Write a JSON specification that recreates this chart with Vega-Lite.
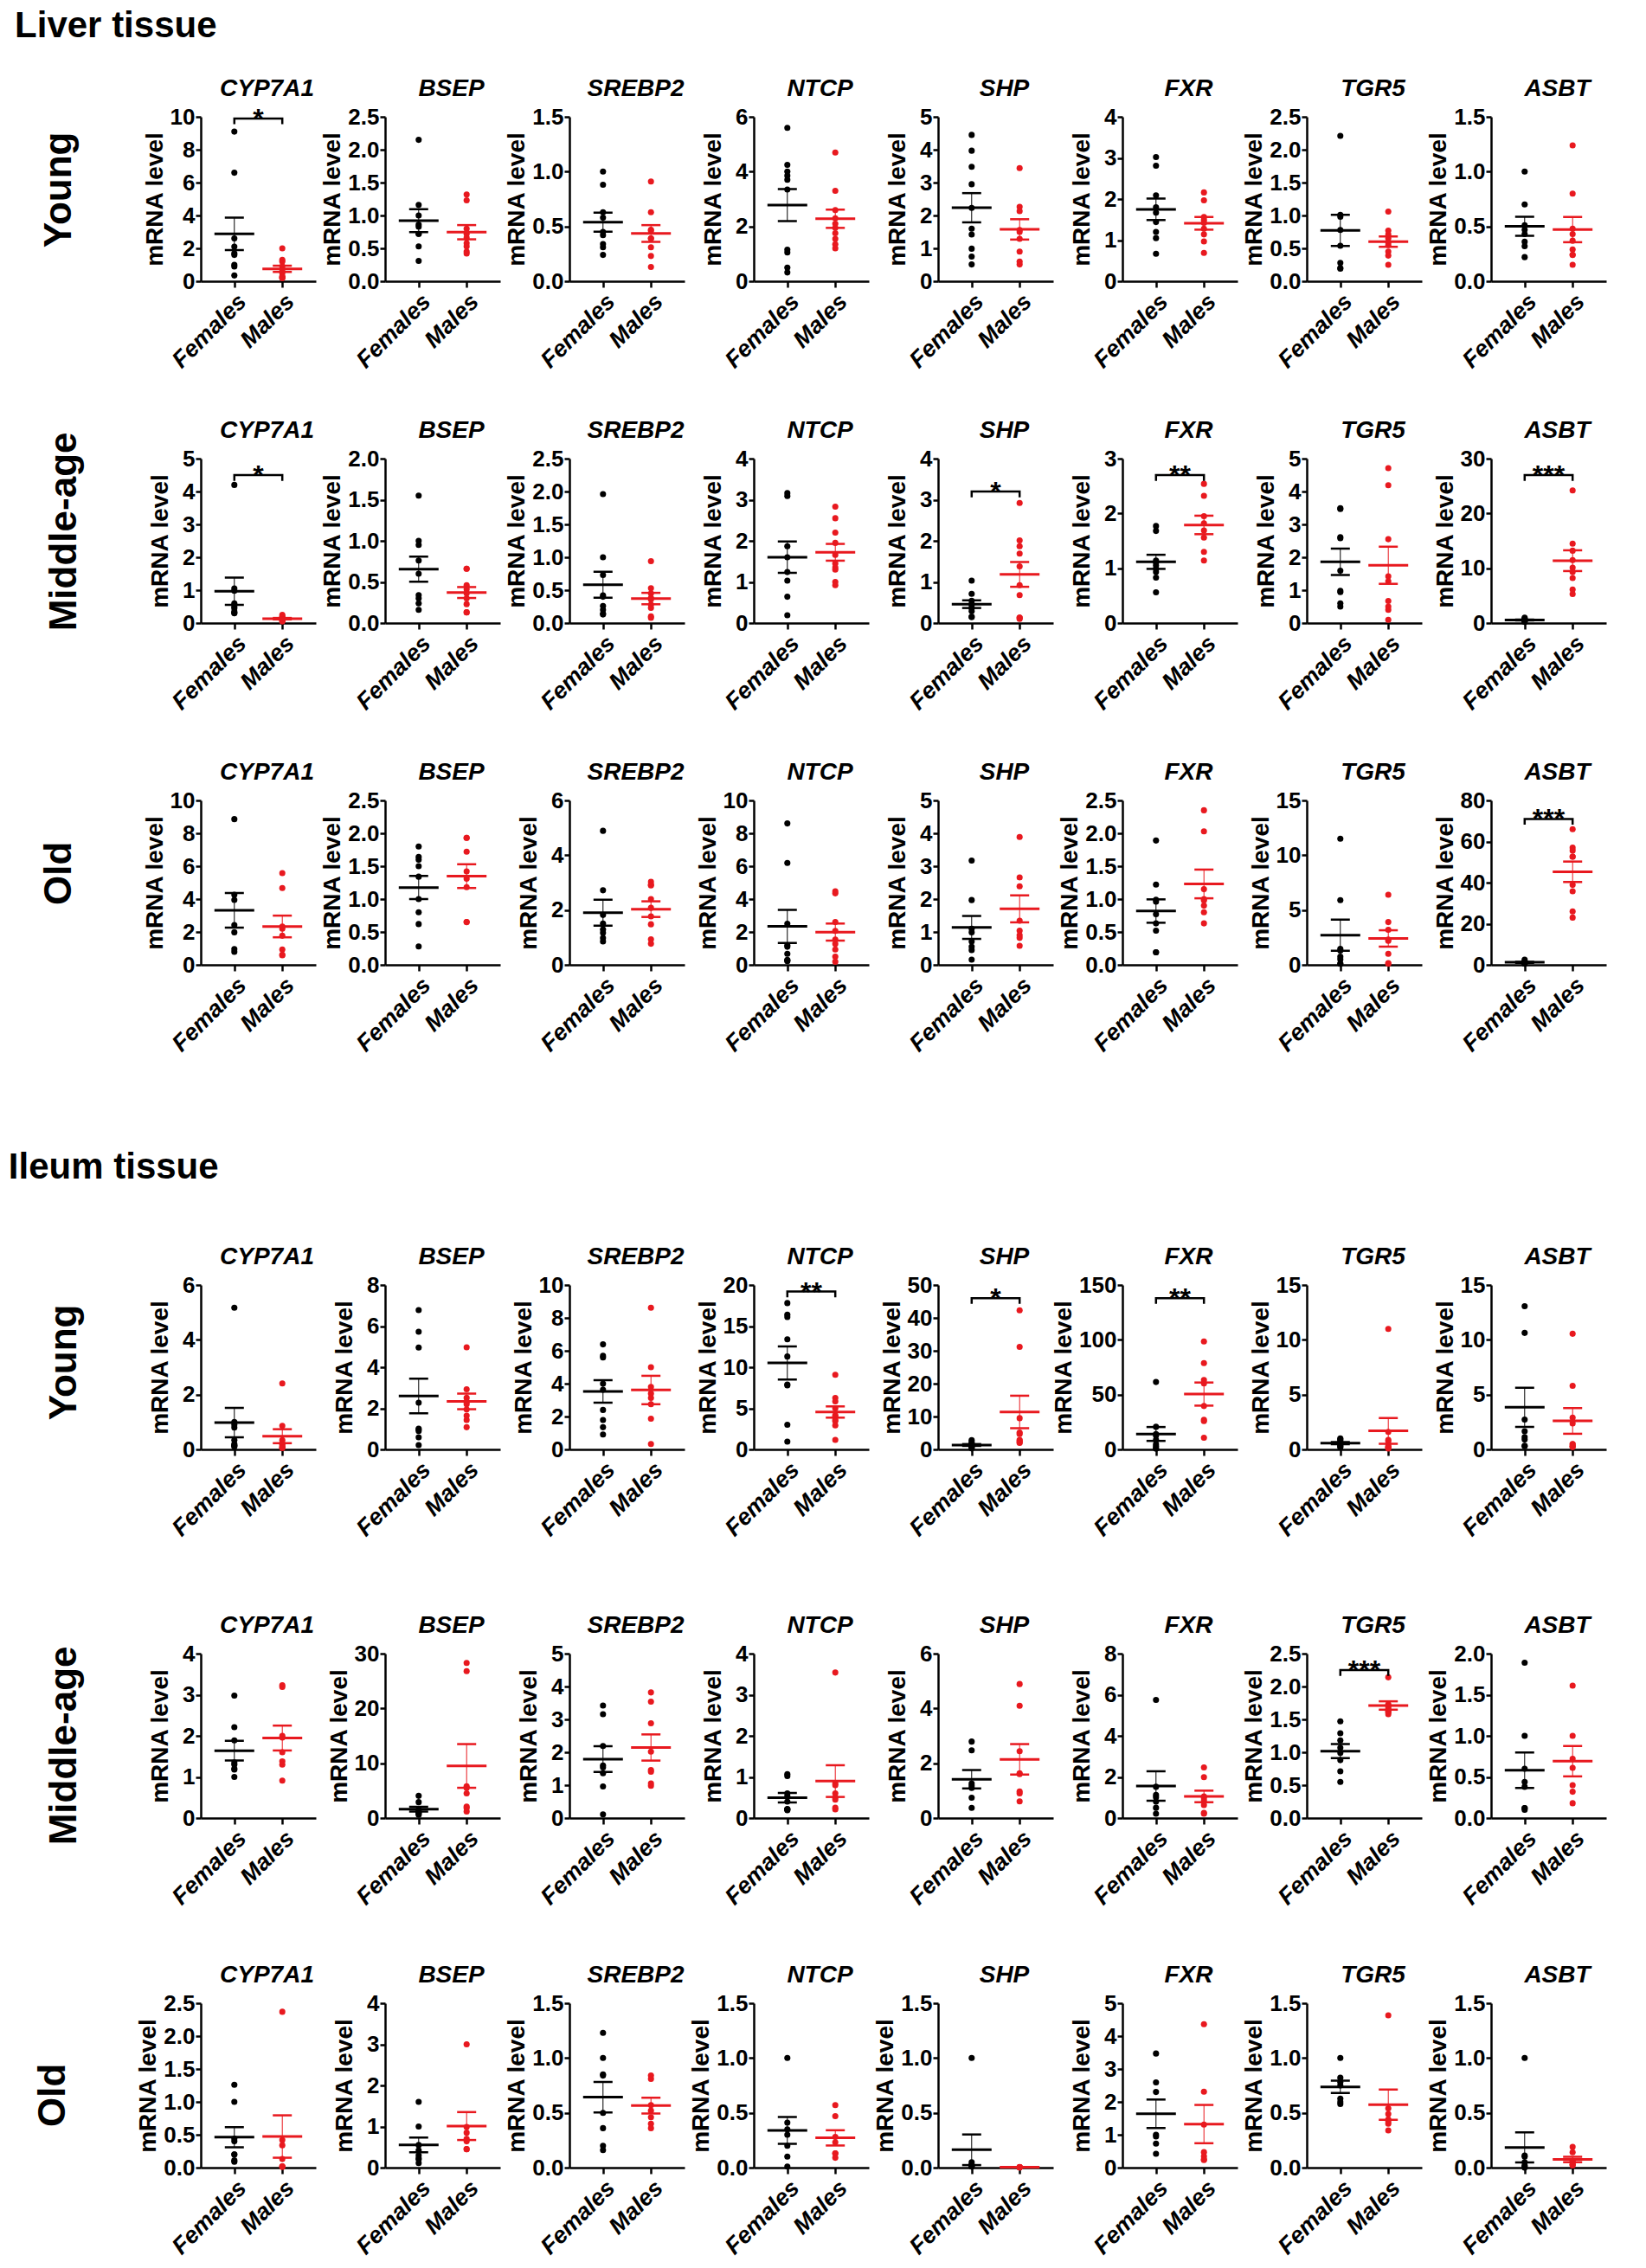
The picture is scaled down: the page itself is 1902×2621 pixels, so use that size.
{
"$schema":"https://vega.github.io/schema/vega-lite/v6.json",
"padding":{"left":9,"top":8,"right":5,"bottom":5},
"data":{"values":[
{"p":"L11","g":"Females","v":9.1},{"p":"L11","g":"Females","v":6.6},{"p":"L11","g":"Females","v":2.6},{"p":"L11","g":"Females","v":2.1},{"p":"L11","g":"Females","v":1.7},{"p":"L11","g":"Females","v":1.6},{"p":"L11","g":"Females","v":1.0},{"p":"L11","g":"Females","v":0.9},{"p":"L11","g":"Females","v":0.35},
{"p":"L11","g":"Males","v":2.0},{"p":"L11","g":"Males","v":1.3},{"p":"L11","g":"Males","v":1.2},{"p":"L11","g":"Males","v":0.9},{"p":"L11","g":"Males","v":0.7},{"p":"L11","g":"Males","v":0.5},{"p":"L11","g":"Males","v":0.3},{"p":"L11","g":"Males","v":0.25},{"p":"L11","g":"Males","v":0.2},{"p":"L11","g":"Males","v":0.2},
{"p":"L12","g":"Females","v":2.15},{"p":"L12","g":"Females","v":1.16},{"p":"L12","g":"Females","v":1.0},{"p":"L12","g":"Females","v":0.86},{"p":"L12","g":"Females","v":0.83},{"p":"L12","g":"Females","v":0.72},{"p":"L12","g":"Females","v":0.72},{"p":"L12","g":"Females","v":0.53},{"p":"L12","g":"Females","v":0.31},
{"p":"L12","g":"Males","v":1.32},{"p":"L12","g":"Males","v":1.23},{"p":"L12","g":"Males","v":0.8},{"p":"L12","g":"Males","v":0.72},{"p":"L12","g":"Males","v":0.66},{"p":"L12","g":"Males","v":0.58},{"p":"L12","g":"Males","v":0.53},{"p":"L12","g":"Males","v":0.45},{"p":"L12","g":"Males","v":0.42},
{"p":"L13","g":"Females","v":1.0},{"p":"L13","g":"Females","v":0.88},{"p":"L13","g":"Females","v":0.63},{"p":"L13","g":"Females","v":0.58},{"p":"L13","g":"Females","v":0.45},{"p":"L13","g":"Females","v":0.42},{"p":"L13","g":"Females","v":0.34},{"p":"L13","g":"Females","v":0.31},{"p":"L13","g":"Females","v":0.24},
{"p":"L13","g":"Males","v":0.91},{"p":"L13","g":"Males","v":0.63},{"p":"L13","g":"Males","v":0.47},{"p":"L13","g":"Males","v":0.46},{"p":"L13","g":"Males","v":0.39},{"p":"L13","g":"Males","v":0.39},{"p":"L13","g":"Males","v":0.31},{"p":"L13","g":"Males","v":0.23},{"p":"L13","g":"Males","v":0.13},
{"p":"L14","g":"Females","v":5.6},{"p":"L14","g":"Females","v":4.25},{"p":"L14","g":"Females","v":4.0},{"p":"L14","g":"Females","v":3.85},{"p":"L14","g":"Females","v":3.7},{"p":"L14","g":"Females","v":3.35},{"p":"L14","g":"Females","v":1.15},{"p":"L14","g":"Females","v":1.05},{"p":"L14","g":"Females","v":0.5},{"p":"L14","g":"Females","v":0.32},
{"p":"L14","g":"Males","v":4.7},{"p":"L14","g":"Males","v":3.3},{"p":"L14","g":"Males","v":2.6},{"p":"L14","g":"Males","v":2.3},{"p":"L14","g":"Males","v":2.1},{"p":"L14","g":"Males","v":1.95},{"p":"L14","g":"Males","v":1.75},{"p":"L14","g":"Males","v":1.55},{"p":"L14","g":"Males","v":1.35},{"p":"L14","g":"Males","v":1.2},
{"p":"L15","g":"Females","v":4.45},{"p":"L15","g":"Females","v":3.97},{"p":"L15","g":"Females","v":3.48},{"p":"L15","g":"Females","v":2.95},{"p":"L15","g":"Females","v":2.23},{"p":"L15","g":"Females","v":1.6},{"p":"L15","g":"Females","v":1.42},{"p":"L15","g":"Females","v":0.99},{"p":"L15","g":"Females","v":0.75},{"p":"L15","g":"Females","v":0.51},
{"p":"L15","g":"Males","v":3.44},{"p":"L15","g":"Males","v":2.26},{"p":"L15","g":"Males","v":2.13},{"p":"L15","g":"Males","v":1.56},{"p":"L15","g":"Males","v":1.5},{"p":"L15","g":"Males","v":1.29},{"p":"L15","g":"Males","v":0.9},{"p":"L15","g":"Males","v":0.6},{"p":"L15","g":"Males","v":0.51},
{"p":"L16","g":"Females","v":3.02},{"p":"L16","g":"Females","v":2.81},{"p":"L16","g":"Females","v":2.09},{"p":"L16","g":"Females","v":1.8},{"p":"L16","g":"Females","v":1.67},{"p":"L16","g":"Females","v":1.44},{"p":"L16","g":"Females","v":1.2},{"p":"L16","g":"Females","v":1.05},{"p":"L16","g":"Females","v":0.67},
{"p":"L16","g":"Males","v":2.16},{"p":"L16","g":"Males","v":1.97},{"p":"L16","g":"Males","v":1.56},{"p":"L16","g":"Males","v":1.49},{"p":"L16","g":"Males","v":1.42},{"p":"L16","g":"Males","v":1.28},{"p":"L16","g":"Males","v":1.14},{"p":"L16","g":"Males","v":0.97},{"p":"L16","g":"Males","v":0.69},
{"p":"L17","g":"Females","v":2.21},{"p":"L17","g":"Females","v":1.01},{"p":"L17","g":"Females","v":0.98},{"p":"L17","g":"Females","v":0.78},{"p":"L17","g":"Females","v":0.54},{"p":"L17","g":"Females","v":0.28},{"p":"L17","g":"Females","v":0.2},{"p":"L17","g":"Females","v":0.19},
{"p":"L17","g":"Males","v":1.06},{"p":"L17","g":"Males","v":0.77},{"p":"L17","g":"Males","v":0.71},{"p":"L17","g":"Males","v":0.65},{"p":"L17","g":"Males","v":0.59},{"p":"L17","g":"Males","v":0.55},{"p":"L17","g":"Males","v":0.45},{"p":"L17","g":"Males","v":0.39},{"p":"L17","g":"Males","v":0.25},
{"p":"L18","g":"Females","v":1.0},{"p":"L18","g":"Females","v":0.7},{"p":"L18","g":"Females","v":0.51},{"p":"L18","g":"Females","v":0.47},{"p":"L18","g":"Females","v":0.43},{"p":"L18","g":"Females","v":0.36},{"p":"L18","g":"Females","v":0.32},{"p":"L18","g":"Females","v":0.22},
{"p":"L18","g":"Males","v":1.24},{"p":"L18","g":"Males","v":0.8},{"p":"L18","g":"Males","v":0.48},{"p":"L18","g":"Males","v":0.43},{"p":"L18","g":"Males","v":0.37},{"p":"L18","g":"Males","v":0.29},{"p":"L18","g":"Males","v":0.24},{"p":"L18","g":"Males","v":0.24},{"p":"L18","g":"Males","v":0.15},
{"p":"L21","g":"Females","v":4.2},{"p":"L21","g":"Females","v":1.05},{"p":"L21","g":"Females","v":0.98},{"p":"L21","g":"Females","v":0.6},{"p":"L21","g":"Females","v":0.5},{"p":"L21","g":"Females","v":0.45},{"p":"L21","g":"Females","v":0.35},{"p":"L21","g":"Females","v":0.3},{"p":"L21","g":"Females","v":0.3},
{"p":"L21","g":"Males","v":0.25},{"p":"L21","g":"Males","v":0.2},{"p":"L21","g":"Males","v":0.18},{"p":"L21","g":"Males","v":0.15},{"p":"L21","g":"Males","v":0.12},{"p":"L21","g":"Males","v":0.1},{"p":"L21","g":"Males","v":0.08},{"p":"L21","g":"Males","v":0.06},{"p":"L21","g":"Males","v":0.05},
{"p":"L22","g":"Females","v":1.55},{"p":"L22","g":"Females","v":1.0},{"p":"L22","g":"Females","v":0.95},{"p":"L22","g":"Females","v":0.76},{"p":"L22","g":"Females","v":0.6},{"p":"L22","g":"Females","v":0.34},{"p":"L22","g":"Females","v":0.3},{"p":"L22","g":"Females","v":0.24},{"p":"L22","g":"Females","v":0.16},
{"p":"L22","g":"Males","v":0.66},{"p":"L22","g":"Males","v":0.66},{"p":"L22","g":"Males","v":0.46},{"p":"L22","g":"Males","v":0.41},{"p":"L22","g":"Males","v":0.36},{"p":"L22","g":"Males","v":0.3},{"p":"L22","g":"Males","v":0.23},{"p":"L22","g":"Males","v":0.13},{"p":"L22","g":"Males","v":0.13},
{"p":"L23","g":"Females","v":1.96},{"p":"L23","g":"Females","v":1.0},{"p":"L23","g":"Females","v":0.73},{"p":"L23","g":"Females","v":0.42},{"p":"L23","g":"Females","v":0.4},{"p":"L23","g":"Females","v":0.26},{"p":"L23","g":"Females","v":0.2},{"p":"L23","g":"Females","v":0.14},{"p":"L23","g":"Females","v":0.13},
{"p":"L23","g":"Males","v":0.94},{"p":"L23","g":"Males","v":0.53},{"p":"L23","g":"Males","v":0.45},{"p":"L23","g":"Males","v":0.38},{"p":"L23","g":"Males","v":0.36},{"p":"L23","g":"Males","v":0.28},{"p":"L23","g":"Males","v":0.23},{"p":"L23","g":"Males","v":0.1},{"p":"L23","g":"Males","v":0.08},
{"p":"L24","g":"Females","v":3.16},{"p":"L24","g":"Females","v":3.09},{"p":"L24","g":"Females","v":1.87},{"p":"L24","g":"Females","v":1.6},{"p":"L24","g":"Females","v":1.24},{"p":"L24","g":"Females","v":1.03},{"p":"L24","g":"Females","v":0.64},{"p":"L24","g":"Females","v":0.19},
{"p":"L24","g":"Males","v":2.83},{"p":"L24","g":"Males","v":2.55},{"p":"L24","g":"Males","v":2.2},{"p":"L24","g":"Males","v":1.95},{"p":"L24","g":"Males","v":1.66},{"p":"L24","g":"Males","v":1.45},{"p":"L24","g":"Males","v":1.35},{"p":"L24","g":"Males","v":1.3},{"p":"L24","g":"Males","v":1.0},{"p":"L24","g":"Males","v":0.92},
{"p":"L25","g":"Females","v":1.03},{"p":"L25","g":"Females","v":0.71},{"p":"L25","g":"Females","v":0.54},{"p":"L25","g":"Females","v":0.47},{"p":"L25","g":"Females","v":0.43},{"p":"L25","g":"Females","v":0.36},{"p":"L25","g":"Females","v":0.29},{"p":"L25","g":"Females","v":0.15},{"p":"L25","g":"Females","v":0.15},
{"p":"L25","g":"Males","v":2.92},{"p":"L25","g":"Males","v":2.01},{"p":"L25","g":"Males","v":1.87},{"p":"L25","g":"Males","v":1.69},{"p":"L25","g":"Males","v":1.38},{"p":"L25","g":"Males","v":0.92},{"p":"L25","g":"Males","v":0.68},{"p":"L25","g":"Males","v":0.13},{"p":"L25","g":"Males","v":0.13},{"p":"L25","g":"Males","v":0.1},
{"p":"L26","g":"Females","v":1.77},{"p":"L26","g":"Females","v":1.68},{"p":"L26","g":"Females","v":1.14},{"p":"L26","g":"Females","v":1.1},{"p":"L26","g":"Females","v":1.05},{"p":"L26","g":"Females","v":0.99},{"p":"L26","g":"Females","v":0.93},{"p":"L26","g":"Females","v":0.83},{"p":"L26","g":"Females","v":0.56},
{"p":"L26","g":"Males","v":2.54},{"p":"L26","g":"Males","v":2.32},{"p":"L26","g":"Males","v":1.95},{"p":"L26","g":"Males","v":1.82},{"p":"L26","g":"Males","v":1.69},{"p":"L26","g":"Males","v":1.56},{"p":"L26","g":"Males","v":1.3},{"p":"L26","g":"Males","v":1.14},
{"p":"L27","g":"Females","v":3.49},{"p":"L27","g":"Females","v":3.47},{"p":"L27","g":"Females","v":2.61},{"p":"L27","g":"Females","v":2.58},{"p":"L27","g":"Females","v":1.59},{"p":"L27","g":"Females","v":0.98},{"p":"L27","g":"Females","v":0.94},{"p":"L27","g":"Females","v":0.6},{"p":"L27","g":"Females","v":0.5},
{"p":"L27","g":"Males","v":4.71},{"p":"L27","g":"Males","v":4.19},{"p":"L27","g":"Males","v":2.55},{"p":"L27","g":"Males","v":1.42},{"p":"L27","g":"Males","v":1.27},{"p":"L27","g":"Males","v":0.67},{"p":"L27","g":"Males","v":0.5},{"p":"L27","g":"Males","v":0.4},{"p":"L27","g":"Males","v":0.1},
{"p":"L28","g":"Females","v":1.0},{"p":"L28","g":"Females","v":0.8},{"p":"L28","g":"Females","v":0.7},{"p":"L28","g":"Females","v":0.6},{"p":"L28","g":"Females","v":0.5},{"p":"L28","g":"Females","v":0.4},{"p":"L28","g":"Females","v":0.4},{"p":"L28","g":"Females","v":0.3},{"p":"L28","g":"Females","v":0.2},
{"p":"L28","g":"Males","v":24.2},{"p":"L28","g":"Males","v":14.5},{"p":"L28","g":"Males","v":13.2},{"p":"L28","g":"Males","v":11.5},{"p":"L28","g":"Males","v":10.1},{"p":"L28","g":"Males","v":9.3},{"p":"L28","g":"Males","v":8.2},{"p":"L28","g":"Males","v":6.1},{"p":"L28","g":"Males","v":5.3},
{"p":"L31","g":"Females","v":8.86},{"p":"L31","g":"Females","v":4.26},{"p":"L31","g":"Females","v":3.95},{"p":"L31","g":"Females","v":2.42},{"p":"L31","g":"Females","v":1.98},{"p":"L31","g":"Females","v":0.96},{"p":"L31","g":"Females","v":0.79},
{"p":"L31","g":"Males","v":5.58},{"p":"L31","g":"Males","v":4.67},{"p":"L31","g":"Males","v":2.33},{"p":"L31","g":"Males","v":2.2},{"p":"L31","g":"Males","v":1.77},{"p":"L31","g":"Males","v":0.93},{"p":"L31","g":"Males","v":0.61},{"p":"L31","g":"Males","v":0.58},
{"p":"L32","g":"Females","v":1.8},{"p":"L32","g":"Females","v":1.64},{"p":"L32","g":"Females","v":1.6},{"p":"L32","g":"Females","v":1.5},{"p":"L32","g":"Females","v":1.34},{"p":"L32","g":"Females","v":1.0},{"p":"L32","g":"Females","v":0.8},{"p":"L32","g":"Females","v":0.62},{"p":"L32","g":"Females","v":0.28},
{"p":"L32","g":"Males","v":1.93},{"p":"L32","g":"Males","v":1.93},{"p":"L32","g":"Males","v":1.72},{"p":"L32","g":"Males","v":1.42},{"p":"L32","g":"Males","v":1.31},{"p":"L32","g":"Males","v":1.18},{"p":"L32","g":"Males","v":0.65},{"p":"L32","g":"Males","v":0.65},
{"p":"L33","g":"Females","v":4.89},{"p":"L33","g":"Females","v":2.72},{"p":"L33","g":"Females","v":1.82},{"p":"L33","g":"Females","v":1.51},{"p":"L33","g":"Females","v":1.29},{"p":"L33","g":"Females","v":1.17},{"p":"L33","g":"Females","v":0.98},{"p":"L33","g":"Females","v":0.85},
{"p":"L33","g":"Males","v":3.03},{"p":"L33","g":"Males","v":2.93},{"p":"L33","g":"Males","v":2.9},{"p":"L33","g":"Males","v":2.4},{"p":"L33","g":"Males","v":2.08},{"p":"L33","g":"Males","v":1.77},{"p":"L33","g":"Males","v":1.48},{"p":"L33","g":"Males","v":0.93},{"p":"L33","g":"Males","v":0.77},
{"p":"L34","g":"Females","v":8.6},{"p":"L34","g":"Females","v":6.2},{"p":"L34","g":"Females","v":2.5},{"p":"L34","g":"Females","v":1.19},{"p":"L34","g":"Females","v":1.1},{"p":"L34","g":"Females","v":0.67},{"p":"L34","g":"Females","v":0.3},{"p":"L34","g":"Females","v":0.26},{"p":"L34","g":"Females","v":0.23},
{"p":"L34","g":"Males","v":4.47},{"p":"L34","g":"Males","v":4.35},{"p":"L34","g":"Males","v":2.6},{"p":"L34","g":"Males","v":2.07},{"p":"L34","g":"Males","v":1.54},{"p":"L34","g":"Males","v":1.28},{"p":"L34","g":"Males","v":0.93},{"p":"L34","g":"Males","v":0.5},{"p":"L34","g":"Males","v":0.19},
{"p":"L35","g":"Females","v":3.17},{"p":"L35","g":"Females","v":1.97},{"p":"L35","g":"Females","v":1.1},{"p":"L35","g":"Females","v":0.99},{"p":"L35","g":"Females","v":0.71},{"p":"L35","g":"Females","v":0.55},{"p":"L35","g":"Females","v":0.45},{"p":"L35","g":"Females","v":0.16},
{"p":"L35","g":"Males","v":3.89},{"p":"L35","g":"Males","v":2.66},{"p":"L35","g":"Males","v":2.39},{"p":"L35","g":"Males","v":1.34},{"p":"L35","g":"Males","v":1.04},{"p":"L35","g":"Males","v":0.9},{"p":"L35","g":"Males","v":0.82},{"p":"L35","g":"Males","v":0.58},
{"p":"L36","g":"Females","v":1.89},{"p":"L36","g":"Females","v":1.22},{"p":"L36","g":"Females","v":0.99},{"p":"L36","g":"Females","v":0.96},{"p":"L36","g":"Females","v":0.77},{"p":"L36","g":"Females","v":0.63},{"p":"L36","g":"Females","v":0.52},{"p":"L36","g":"Females","v":0.19},{"p":"L36","g":"Females","v":0.19},
{"p":"L36","g":"Males","v":2.35},{"p":"L36","g":"Males","v":2.03},{"p":"L36","g":"Males","v":1.15},{"p":"L36","g":"Males","v":1.0},{"p":"L36","g":"Males","v":0.98},{"p":"L36","g":"Males","v":0.9},{"p":"L36","g":"Males","v":0.8},{"p":"L36","g":"Males","v":0.63},
{"p":"L37","g":"Females","v":11.5},{"p":"L37","g":"Females","v":5.9},{"p":"L37","g":"Females","v":1.45},{"p":"L37","g":"Females","v":1.3},{"p":"L37","g":"Females","v":0.74},{"p":"L37","g":"Females","v":0.5},{"p":"L37","g":"Females","v":0.1},{"p":"L37","g":"Females","v":0.1},
{"p":"L37","g":"Males","v":6.4},{"p":"L37","g":"Males","v":3.9},{"p":"L37","g":"Males","v":3.2},{"p":"L37","g":"Males","v":2.3},{"p":"L37","g":"Males","v":2.2},{"p":"L37","g":"Males","v":1.0},{"p":"L37","g":"Males","v":0.15},{"p":"L37","g":"Males","v":0.1},
{"p":"L38","g":"Females","v":2.5},{"p":"L38","g":"Females","v":1.8},{"p":"L38","g":"Females","v":1.5},{"p":"L38","g":"Females","v":1.2},{"p":"L38","g":"Females","v":1.0},{"p":"L38","g":"Females","v":0.8},{"p":"L38","g":"Females","v":0.6},{"p":"L38","g":"Females","v":0.5},
{"p":"L38","g":"Males","v":66},{"p":"L38","g":"Males","v":57},{"p":"L38","g":"Males","v":55.6},{"p":"L38","g":"Males","v":52.6},{"p":"L38","g":"Males","v":52.6},{"p":"L38","g":"Males","v":38.9},{"p":"L38","g":"Males","v":35.8},{"p":"L38","g":"Males","v":26},{"p":"L38","g":"Males","v":23},
{"p":"I11","g":"Females","v":5.17},{"p":"I11","g":"Females","v":1.0},{"p":"I11","g":"Females","v":0.9},{"p":"I11","g":"Females","v":0.8},{"p":"I11","g":"Females","v":0.34},{"p":"I11","g":"Females","v":0.2},{"p":"I11","g":"Females","v":0.15},{"p":"I11","g":"Females","v":0.13},{"p":"I11","g":"Females","v":0.1},
{"p":"I11","g":"Males","v":2.41},{"p":"I11","g":"Males","v":0.86},{"p":"I11","g":"Males","v":0.34},{"p":"I11","g":"Males","v":0.23},{"p":"I11","g":"Males","v":0.18},{"p":"I11","g":"Males","v":0.13},{"p":"I11","g":"Males","v":0.07},{"p":"I11","g":"Males","v":0.07},{"p":"I11","g":"Males","v":0.05},
{"p":"I12","g":"Females","v":6.78},{"p":"I12","g":"Females","v":5.73},{"p":"I12","g":"Females","v":4.96},{"p":"I12","g":"Females","v":2.27},{"p":"I12","g":"Females","v":1.01},{"p":"I12","g":"Females","v":0.97},{"p":"I12","g":"Females","v":0.9},{"p":"I12","g":"Females","v":0.59},{"p":"I12","g":"Females","v":0.21},
{"p":"I12","g":"Males","v":4.97},{"p":"I12","g":"Males","v":2.93},{"p":"I12","g":"Males","v":2.51},{"p":"I12","g":"Males","v":2.31},{"p":"I12","g":"Males","v":2.2},{"p":"I12","g":"Males","v":1.95},{"p":"I12","g":"Males","v":1.64},{"p":"I12","g":"Males","v":1.43},{"p":"I12","g":"Males","v":1.08},
{"p":"I13","g":"Females","v":6.39},{"p":"I13","g":"Females","v":5.69},{"p":"I13","g":"Females","v":5.59},{"p":"I13","g":"Females","v":4.0},{"p":"I13","g":"Females","v":3.63},{"p":"I13","g":"Females","v":2.4},{"p":"I13","g":"Females","v":1.79},{"p":"I13","g":"Females","v":1.35},{"p":"I13","g":"Females","v":0.91},
{"p":"I13","g":"Males","v":8.62},{"p":"I13","g":"Males","v":5.0},{"p":"I13","g":"Males","v":3.8},{"p":"I13","g":"Males","v":3.4},{"p":"I13","g":"Males","v":3.13},{"p":"I13","g":"Males","v":2.75},{"p":"I13","g":"Males","v":1.87},{"p":"I13","g":"Males","v":0.33},
{"p":"I14","g":"Females","v":17.8},{"p":"I14","g":"Females","v":16.4},{"p":"I14","g":"Females","v":16.1},{"p":"I14","g":"Females","v":13.4},{"p":"I14","g":"Females","v":11.3},{"p":"I14","g":"Females","v":7.9},{"p":"I14","g":"Females","v":7.8},{"p":"I14","g":"Females","v":3.0},{"p":"I14","g":"Females","v":0.95},
{"p":"I14","g":"Males","v":9.08},{"p":"I14","g":"Males","v":6.27},{"p":"I14","g":"Males","v":5.85},{"p":"I14","g":"Males","v":5.0},{"p":"I14","g":"Males","v":4.15},{"p":"I14","g":"Males","v":4.0},{"p":"I14","g":"Males","v":3.6},{"p":"I14","g":"Males","v":3.45},{"p":"I14","g":"Males","v":2.92},{"p":"I14","g":"Males","v":1.16},
{"p":"I15","g":"Females","v":2.8},{"p":"I15","g":"Females","v":2.2},{"p":"I15","g":"Females","v":1.8},{"p":"I15","g":"Females","v":1.5},{"p":"I15","g":"Females","v":1.2},{"p":"I15","g":"Females","v":1.0},{"p":"I15","g":"Females","v":0.8},{"p":"I15","g":"Females","v":0.5},{"p":"I15","g":"Females","v":0.3},
{"p":"I15","g":"Males","v":42.3},{"p":"I15","g":"Males","v":31.2},{"p":"I15","g":"Males","v":9.5},{"p":"I15","g":"Males","v":5.1},{"p":"I15","g":"Males","v":4.7},{"p":"I15","g":"Males","v":2.9},{"p":"I15","g":"Males","v":2.6},{"p":"I15","g":"Males","v":2.2},{"p":"I15","g":"Males","v":2.0},
{"p":"I16","g":"Females","v":61.5},{"p":"I16","g":"Females","v":20.6},{"p":"I16","g":"Females","v":14},{"p":"I16","g":"Females","v":12.7},{"p":"I16","g":"Females","v":8.7},{"p":"I16","g":"Females","v":4.8},{"p":"I16","g":"Females","v":3.0},{"p":"I16","g":"Females","v":0.8},{"p":"I16","g":"Females","v":0.8},
{"p":"I16","g":"Males","v":98.5},{"p":"I16","g":"Males","v":78.7},{"p":"I16","g":"Males","v":63.4},{"p":"I16","g":"Males","v":60.2},{"p":"I16","g":"Males","v":39.6},{"p":"I16","g":"Males","v":27},{"p":"I16","g":"Males","v":25.9},{"p":"I16","g":"Males","v":10.6},
{"p":"I17","g":"Females","v":1.0},{"p":"I17","g":"Females","v":0.9},{"p":"I17","g":"Females","v":0.8},{"p":"I17","g":"Females","v":0.65},{"p":"I17","g":"Females","v":0.55},{"p":"I17","g":"Females","v":0.45},{"p":"I17","g":"Females","v":0.35},{"p":"I17","g":"Females","v":0.25},{"p":"I17","g":"Females","v":0.2},
{"p":"I17","g":"Males","v":11.0},{"p":"I17","g":"Males","v":1.6},{"p":"I17","g":"Males","v":0.87},{"p":"I17","g":"Males","v":0.74},{"p":"I17","g":"Males","v":0.34},{"p":"I17","g":"Males","v":0.21},{"p":"I17","g":"Males","v":0.2},{"p":"I17","g":"Males","v":0.15},{"p":"I17","g":"Males","v":0.08},
{"p":"I18","g":"Females","v":13.06},{"p":"I18","g":"Females","v":10.63},{"p":"I18","g":"Females","v":2.72},{"p":"I18","g":"Females","v":1.66},{"p":"I18","g":"Females","v":1.13},{"p":"I18","g":"Females","v":0.9},{"p":"I18","g":"Females","v":0.34},{"p":"I18","g":"Females","v":0.3},
{"p":"I18","g":"Males","v":10.55},{"p":"I18","g":"Males","v":5.8},{"p":"I18","g":"Males","v":2.9},{"p":"I18","g":"Males","v":2.37},{"p":"I18","g":"Males","v":0.5},{"p":"I18","g":"Males","v":0.47},{"p":"I18","g":"Males","v":0.3},{"p":"I18","g":"Males","v":0.29},{"p":"I18","g":"Males","v":0.21},
{"p":"I21","g":"Females","v":2.98},{"p":"I21","g":"Females","v":2.21},{"p":"I21","g":"Females","v":1.89},{"p":"I21","g":"Females","v":1.35},{"p":"I21","g":"Females","v":1.3},{"p":"I21","g":"Females","v":1.2},{"p":"I21","g":"Females","v":1.18},{"p":"I21","g":"Females","v":1.0},
{"p":"I21","g":"Males","v":3.23},{"p":"I21","g":"Males","v":3.19},{"p":"I21","g":"Males","v":2.0},{"p":"I21","g":"Males","v":1.96},{"p":"I21","g":"Males","v":1.6},{"p":"I21","g":"Males","v":1.38},{"p":"I21","g":"Males","v":1.3},{"p":"I21","g":"Males","v":0.91},
{"p":"I22","g":"Females","v":4.05},{"p":"I22","g":"Females","v":2.9},{"p":"I22","g":"Females","v":1.5},{"p":"I22","g":"Females","v":1.2},{"p":"I22","g":"Females","v":1.05},{"p":"I22","g":"Females","v":0.9},{"p":"I22","g":"Females","v":0.8},{"p":"I22","g":"Females","v":0.6},
{"p":"I22","g":"Males","v":28.3},{"p":"I22","g":"Males","v":26.8},{"p":"I22","g":"Males","v":5.8},{"p":"I22","g":"Males","v":5.5},{"p":"I22","g":"Males","v":4.5},{"p":"I22","g":"Males","v":2.1},{"p":"I22","g":"Males","v":1.84},{"p":"I22","g":"Males","v":1.2},
{"p":"I23","g":"Females","v":3.42},{"p":"I23","g":"Females","v":3.16},{"p":"I23","g":"Females","v":2.19},{"p":"I23","g":"Females","v":1.6},{"p":"I23","g":"Females","v":1.54},{"p":"I23","g":"Females","v":1.36},{"p":"I23","g":"Females","v":0.96},{"p":"I23","g":"Females","v":0.11},
{"p":"I23","g":"Males","v":3.82},{"p":"I23","g":"Males","v":3.54},{"p":"I23","g":"Males","v":2.88},{"p":"I23","g":"Males","v":2.02},{"p":"I23","g":"Males","v":1.46},{"p":"I23","g":"Males","v":1.41},{"p":"I23","g":"Males","v":1.05},{"p":"I23","g":"Males","v":0.98},
{"p":"I24","g":"Females","v":1.07},{"p":"I24","g":"Females","v":1.02},{"p":"I24","g":"Females","v":0.6},{"p":"I24","g":"Females","v":0.53},{"p":"I24","g":"Females","v":0.4},{"p":"I24","g":"Females","v":0.22},{"p":"I24","g":"Females","v":0.21},{"p":"I24","g":"Females","v":0.21},{"p":"I24","g":"Females","v":0.19},
{"p":"I24","g":"Males","v":3.54},{"p":"I24","g":"Males","v":0.84},{"p":"I24","g":"Males","v":0.8},{"p":"I24","g":"Males","v":0.6},{"p":"I24","g":"Males","v":0.5},{"p":"I24","g":"Males","v":0.45},{"p":"I24","g":"Males","v":0.25},{"p":"I24","g":"Males","v":0.21},
{"p":"I25","g":"Females","v":2.79},{"p":"I25","g":"Females","v":2.47},{"p":"I25","g":"Females","v":1.26},{"p":"I25","g":"Females","v":1.18},{"p":"I25","g":"Females","v":1.1},{"p":"I25","g":"Females","v":0.74},{"p":"I25","g":"Females","v":0.37},
{"p":"I25","g":"Males","v":4.89},{"p":"I25","g":"Males","v":4.1},{"p":"I25","g":"Males","v":2.44},{"p":"I25","g":"Males","v":1.63},{"p":"I25","g":"Males","v":1.6},{"p":"I25","g":"Males","v":0.97},{"p":"I25","g":"Males","v":0.9},{"p":"I25","g":"Males","v":0.61},
{"p":"I26","g":"Females","v":5.75},{"p":"I26","g":"Females","v":1.52},{"p":"I26","g":"Females","v":1.12},{"p":"I26","g":"Females","v":1.01},{"p":"I26","g":"Females","v":0.8},{"p":"I26","g":"Females","v":0.5},{"p":"I26","g":"Females","v":0.21},
{"p":"I26","g":"Males","v":2.46},{"p":"I26","g":"Males","v":1.99},{"p":"I26","g":"Males","v":1.05},{"p":"I26","g":"Males","v":0.98},{"p":"I26","g":"Males","v":0.84},{"p":"I26","g":"Males","v":0.63},{"p":"I26","g":"Males","v":0.25},{"p":"I26","g":"Males","v":0.21},
{"p":"I27","g":"Females","v":1.47},{"p":"I27","g":"Females","v":1.29},{"p":"I27","g":"Females","v":1.18},{"p":"I27","g":"Females","v":1.07},{"p":"I27","g":"Females","v":0.99},{"p":"I27","g":"Females","v":0.88},{"p":"I27","g":"Females","v":0.71},{"p":"I27","g":"Females","v":0.55},
{"p":"I27","g":"Males","v":2.14},{"p":"I27","g":"Males","v":1.73},{"p":"I27","g":"Males","v":1.7},{"p":"I27","g":"Males","v":1.67},{"p":"I27","g":"Males","v":1.64},{"p":"I27","g":"Males","v":1.62},{"p":"I27","g":"Males","v":1.61},{"p":"I27","g":"Males","v":1.58},
{"p":"I28","g":"Females","v":1.89},{"p":"I28","g":"Females","v":1.0},{"p":"I28","g":"Females","v":0.6},{"p":"I28","g":"Females","v":0.44},{"p":"I28","g":"Females","v":0.38},{"p":"I28","g":"Females","v":0.12},{"p":"I28","g":"Females","v":0.12},{"p":"I28","g":"Females","v":0.1},
{"p":"I28","g":"Males","v":1.61},{"p":"I28","g":"Males","v":1.0},{"p":"I28","g":"Males","v":0.72},{"p":"I28","g":"Males","v":0.61},{"p":"I28","g":"Males","v":0.4},{"p":"I28","g":"Males","v":0.32},{"p":"I28","g":"Males","v":0.18},
{"p":"I31","g":"Females","v":1.26},{"p":"I31","g":"Females","v":1.0},{"p":"I31","g":"Females","v":0.44},{"p":"I31","g":"Females","v":0.4},{"p":"I31","g":"Females","v":0.2},{"p":"I31","g":"Females","v":0.2},{"p":"I31","g":"Females","v":0.11},{"p":"I31","g":"Females","v":0.09},
{"p":"I31","g":"Males","v":2.37},{"p":"I31","g":"Males","v":0.42},{"p":"I31","g":"Males","v":0.34},{"p":"I31","g":"Males","v":0.13},{"p":"I31","g":"Males","v":0.02},{"p":"I31","g":"Males","v":0.02},{"p":"I31","g":"Males","v":0.01},
{"p":"I32","g":"Females","v":1.6},{"p":"I32","g":"Females","v":1.0},{"p":"I32","g":"Females","v":0.55},{"p":"I32","g":"Females","v":0.42},{"p":"I32","g":"Females","v":0.3},{"p":"I32","g":"Females","v":0.23},{"p":"I32","g":"Females","v":0.2},{"p":"I32","g":"Females","v":0.11},
{"p":"I32","g":"Males","v":3.0},{"p":"I32","g":"Males","v":0.99},{"p":"I32","g":"Males","v":0.85},{"p":"I32","g":"Males","v":0.7},{"p":"I32","g":"Males","v":0.64},{"p":"I32","g":"Males","v":0.45},{"p":"I32","g":"Males","v":0.45},
{"p":"I33","g":"Females","v":1.23},{"p":"I33","g":"Females","v":1.0},{"p":"I33","g":"Females","v":0.85},{"p":"I33","g":"Females","v":0.84},{"p":"I33","g":"Females","v":0.5},{"p":"I33","g":"Females","v":0.36},{"p":"I33","g":"Females","v":0.2},{"p":"I33","g":"Females","v":0.16},
{"p":"I33","g":"Males","v":0.84},{"p":"I33","g":"Males","v":0.81},{"p":"I33","g":"Males","v":0.57},{"p":"I33","g":"Males","v":0.52},{"p":"I33","g":"Males","v":0.46},{"p":"I33","g":"Males","v":0.4},{"p":"I33","g":"Males","v":0.36},
{"p":"I34","g":"Females","v":1.0},{"p":"I34","g":"Females","v":0.41},{"p":"I34","g":"Females","v":0.35},{"p":"I34","g":"Females","v":0.3},{"p":"I34","g":"Females","v":0.2},{"p":"I34","g":"Females","v":0.1},{"p":"I34","g":"Females","v":0.01},
{"p":"I34","g":"Males","v":0.57},{"p":"I34","g":"Males","v":0.47},{"p":"I34","g":"Males","v":0.28},{"p":"I34","g":"Males","v":0.23},{"p":"I34","g":"Males","v":0.13},{"p":"I34","g":"Males","v":0.13},{"p":"I34","g":"Males","v":0.09},
{"p":"I35","g":"Females","v":1.0},{"p":"I35","g":"Females","v":0.05},{"p":"I35","g":"Females","v":0.03},{"p":"I35","g":"Females","v":0.02},{"p":"I35","g":"Females","v":0.02},{"p":"I35","g":"Females","v":0.01},{"p":"I35","g":"Females","v":0.01},
{"p":"I35","g":"Males","v":0.005},{"p":"I35","g":"Males","v":0.003},{"p":"I35","g":"Males","v":0.004},{"p":"I35","g":"Males","v":0.002},{"p":"I35","g":"Males","v":0.003},{"p":"I35","g":"Males","v":0.004},{"p":"I35","g":"Males","v":0.002},
{"p":"I36","g":"Females","v":3.47},{"p":"I36","g":"Females","v":2.59},{"p":"I36","g":"Females","v":2.3},{"p":"I36","g":"Females","v":1.0},{"p":"I36","g":"Females","v":0.95},{"p":"I36","g":"Females","v":0.73},{"p":"I36","g":"Females","v":0.42},
{"p":"I36","g":"Males","v":4.36},{"p":"I36","g":"Males","v":2.31},{"p":"I36","g":"Males","v":1.31},{"p":"I36","g":"Males","v":0.47},{"p":"I36","g":"Males","v":0.34},{"p":"I36","g":"Males","v":0.25},{"p":"I36","g":"Males","v":0.23},
{"p":"I37","g":"Females","v":1.0},{"p":"I37","g":"Females","v":0.82},{"p":"I37","g":"Females","v":0.78},{"p":"I37","g":"Females","v":0.75},{"p":"I37","g":"Females","v":0.63},{"p":"I37","g":"Females","v":0.6},{"p":"I37","g":"Females","v":0.58},
{"p":"I37","g":"Males","v":1.39},{"p":"I37","g":"Males","v":0.54},{"p":"I37","g":"Males","v":0.49},{"p":"I37","g":"Males","v":0.44},{"p":"I37","g":"Males","v":0.42},{"p":"I37","g":"Males","v":0.4},{"p":"I37","g":"Males","v":0.34},
{"p":"I38","g":"Females","v":1.0},{"p":"I38","g":"Females","v":0.11},{"p":"I38","g":"Females","v":0.1},{"p":"I38","g":"Females","v":0.05},{"p":"I38","g":"Females","v":0.02},{"p":"I38","g":"Females","v":0.01},{"p":"I38","g":"Females","v":0.0},
{"p":"I38","g":"Males","v":0.19},{"p":"I38","g":"Males","v":0.14},{"p":"I38","g":"Males","v":0.06},{"p":"I38","g":"Males","v":0.05},{"p":"I38","g":"Males","v":0.03},{"p":"I38","g":"Males","v":0.03},{"p":"I38","g":"Males","v":0.02}
]},
"datasets":{"sig":[
{"p":"L11","v":9.9,"s":"*"},{"p":"L21","v":4.5,"s":"*"},{"p":"L25","v":3.2,"s":"*"},{"p":"L26","v":2.7,"s":"**"},{"p":"L28","v":27,"s":"***"},{"p":"L38","v":71,"s":"***"},{"p":"I14","v":19.2,"s":"**"},{"p":"I15","v":46,"s":"*"},{"p":"I16","v":138,"s":"**"},{"p":"I27","v":2.25,"s":"***"}
]},
"config":{
"view":{"stroke":null,"continuousHeight":190,"continuousWidth":133,"discreteWidth":133},
"font":"Liberation Sans",
"scale":{"pointPadding":0.7},
"range":{"category":["#000000","#e8191f"]},
"axis":{"grid":false,"domainColor":"black","domainWidth":2.5,"tickColor":"black","tickWidth":2.5,"labelColor":"black","labelFont":"Liberation Sans","labelFontWeight":"bold","labelFontSize":26,"labelOverlap":false,"titleColor":"black","titleFont":"Liberation Sans","titleFontWeight":"bold","titleFontSize":28},
"axisX":{"labelAngle":-45,"labelFontStyle":"italic","labelFontSize":27,"tickSize":7,"labelPadding":3},
"axisY":{"minExtent":30,"titlePadding":3,"tickSize":6,"labelPadding":1,"labelFontSize":26},
"point":{"filled":true,"size":50,"opacity":1},
"tick":{"thickness":3,"opacity":1},
"errorbar":{"extent":"stderr","thickness":2.5,"ticks":{"size":22,"thickness":2.5,"opacity":1}},
"title":{"font":"Liberation Sans","fontSize":28,"fontWeight":"bold","fontStyle":"italic","color":"black","offset":5,"dx":10,"frame":"group","baseline":"alphabetic","anchor":"middle"}
},
"spacing":108,
"vconcat":[
{"title":{"text":"Liver tissue","anchor":"start","fontSize":42,"fontStyle":"normal","dx":-30,"offset":4,"frame":"bounds","baseline":"alphabetic"},"spacing":54,"vconcat":[
{"title":{"text":"Young","orient":"left","anchor":"middle","fontSize":44,"fontStyle":"normal","dx":40,"offset":30,"frame":"bounds","baseline":"bottom"},"bounds":"flush","spacing":80,"hconcat":[
{"title":"CYP7A1","encoding":{"x":{"field":"g","type":"nominal","title":null,"scale":{"type":"point"}},"y":{"field":"v","type":"quantitative","title":"mRNA level","scale":{"domain":[0,10]},"axis":{"values":[0,2,4,6,8,10]}}},"layer":[{"transform":[{"filter":"datum.p=='L11'"}],"encoding":{"color":{"field":"g","type":"nominal","legend":null}},"layer":[{"mark":"point"},{"mark":"errorbar"},{"mark":{"type":"tick","size":46},"encoding":{"y":{"aggregate":"mean","field":"v","type":"quantitative","title":"mRNA level"}}}]},{"data":{"name":"sig"},"transform":[{"filter":"datum.p=='L11'"}],"encoding":{"x":{"datum":"Females"}},"layer":[{"mark":{"type":"point","shape":"M0,0.12V0H1V0.12","size":12277,"filled":false,"color":"black","strokeWidth":2.5,"opacity":1}},{"mark":{"type":"text","dx":27.7,"dy":11,"fontSize":32,"fontWeight":"bold","color":"black","baseline":"alphabetic","align":"center"},"encoding":{"text":{"field":"s"}}}]}]},
{"title":"BSEP","transform":[{"filter":"datum.p=='L12'"}],"encoding":{"x":{"field":"g","type":"nominal","title":null,"scale":{"type":"point"}},"y":{"field":"v","type":"quantitative","title":"mRNA level","scale":{"domain":[0,2.5]},"axis":{"values":[0,0.5,1,1.5,2,2.5],"format":".1f"}},"color":{"field":"g","type":"nominal","legend":null}},"layer":[{"mark":"point"},{"mark":"errorbar"},{"mark":{"type":"tick","size":46},"encoding":{"y":{"aggregate":"mean","field":"v","type":"quantitative","title":"mRNA level"}}}]},
{"title":"SREBP2","transform":[{"filter":"datum.p=='L13'"}],"encoding":{"x":{"field":"g","type":"nominal","title":null,"scale":{"type":"point"}},"y":{"field":"v","type":"quantitative","title":"mRNA level","scale":{"domain":[0,1.5]},"axis":{"values":[0,0.5,1,1.5],"format":".1f"}},"color":{"field":"g","type":"nominal","legend":null}},"layer":[{"mark":"point"},{"mark":"errorbar"},{"mark":{"type":"tick","size":46},"encoding":{"y":{"aggregate":"mean","field":"v","type":"quantitative","title":"mRNA level"}}}]},
{"title":"NTCP","transform":[{"filter":"datum.p=='L14'"}],"encoding":{"x":{"field":"g","type":"nominal","title":null,"scale":{"type":"point"}},"y":{"field":"v","type":"quantitative","title":"mRNA level","scale":{"domain":[0,6]},"axis":{"values":[0,2,4,6]}},"color":{"field":"g","type":"nominal","legend":null}},"layer":[{"mark":"point"},{"mark":"errorbar"},{"mark":{"type":"tick","size":46},"encoding":{"y":{"aggregate":"mean","field":"v","type":"quantitative","title":"mRNA level"}}}]},
{"title":"SHP","transform":[{"filter":"datum.p=='L15'"}],"encoding":{"x":{"field":"g","type":"nominal","title":null,"scale":{"type":"point"}},"y":{"field":"v","type":"quantitative","title":"mRNA level","scale":{"domain":[0,5]},"axis":{"values":[0,1,2,3,4,5]}},"color":{"field":"g","type":"nominal","legend":null}},"layer":[{"mark":"point"},{"mark":"errorbar"},{"mark":{"type":"tick","size":46},"encoding":{"y":{"aggregate":"mean","field":"v","type":"quantitative","title":"mRNA level"}}}]},
{"title":"FXR","transform":[{"filter":"datum.p=='L16'"}],"encoding":{"x":{"field":"g","type":"nominal","title":null,"scale":{"type":"point"}},"y":{"field":"v","type":"quantitative","title":"mRNA level","scale":{"domain":[0,4]},"axis":{"values":[0,1,2,3,4]}},"color":{"field":"g","type":"nominal","legend":null}},"layer":[{"mark":"point"},{"mark":"errorbar"},{"mark":{"type":"tick","size":46},"encoding":{"y":{"aggregate":"mean","field":"v","type":"quantitative","title":"mRNA level"}}}]},
{"title":"TGR5","transform":[{"filter":"datum.p=='L17'"}],"encoding":{"x":{"field":"g","type":"nominal","title":null,"scale":{"type":"point"}},"y":{"field":"v","type":"quantitative","title":"mRNA level","scale":{"domain":[0,2.5]},"axis":{"values":[0,0.5,1,1.5,2,2.5],"format":".1f"}},"color":{"field":"g","type":"nominal","legend":null}},"layer":[{"mark":"point"},{"mark":"errorbar"},{"mark":{"type":"tick","size":46},"encoding":{"y":{"aggregate":"mean","field":"v","type":"quantitative","title":"mRNA level"}}}]},
{"title":"ASBT","transform":[{"filter":"datum.p=='L18'"}],"encoding":{"x":{"field":"g","type":"nominal","title":null,"scale":{"type":"point"}},"y":{"field":"v","type":"quantitative","title":"mRNA level","scale":{"domain":[0,1.5]},"axis":{"values":[0,0.5,1,1.5],"format":".1f"}},"color":{"field":"g","type":"nominal","legend":null}},"layer":[{"mark":"point"},{"mark":"errorbar"},{"mark":{"type":"tick","size":46},"encoding":{"y":{"aggregate":"mean","field":"v","type":"quantitative","title":"mRNA level"}}}]}
]},
{"title":{"text":"Middle-age","orient":"left","anchor":"middle","fontSize":44,"fontStyle":"normal","dx":40,"offset":30,"frame":"bounds","baseline":"bottom"},"bounds":"flush","spacing":80,"hconcat":[
{"title":"CYP7A1","encoding":{"x":{"field":"g","type":"nominal","title":null,"scale":{"type":"point"}},"y":{"field":"v","type":"quantitative","title":"mRNA level","scale":{"domain":[0,5]},"axis":{"values":[0,1,2,3,4,5]}}},"layer":[{"transform":[{"filter":"datum.p=='L21'"}],"encoding":{"color":{"field":"g","type":"nominal","legend":null}},"layer":[{"mark":"point"},{"mark":"errorbar"},{"mark":{"type":"tick","size":46},"encoding":{"y":{"aggregate":"mean","field":"v","type":"quantitative","title":"mRNA level"}}}]},{"data":{"name":"sig"},"transform":[{"filter":"datum.p=='L21'"}],"encoding":{"x":{"datum":"Females"}},"layer":[{"mark":{"type":"point","shape":"M0,0.12V0H1V0.12","size":12277,"filled":false,"color":"black","strokeWidth":2.5,"opacity":1}},{"mark":{"type":"text","dx":27.7,"dy":11,"fontSize":32,"fontWeight":"bold","color":"black","baseline":"alphabetic","align":"center"},"encoding":{"text":{"field":"s"}}}]}]},
{"title":"BSEP","transform":[{"filter":"datum.p=='L22'"}],"encoding":{"x":{"field":"g","type":"nominal","title":null,"scale":{"type":"point"}},"y":{"field":"v","type":"quantitative","title":"mRNA level","scale":{"domain":[0,2]},"axis":{"values":[0,0.5,1,1.5,2],"format":".1f"}},"color":{"field":"g","type":"nominal","legend":null}},"layer":[{"mark":"point"},{"mark":"errorbar"},{"mark":{"type":"tick","size":46},"encoding":{"y":{"aggregate":"mean","field":"v","type":"quantitative","title":"mRNA level"}}}]},
{"title":"SREBP2","transform":[{"filter":"datum.p=='L23'"}],"encoding":{"x":{"field":"g","type":"nominal","title":null,"scale":{"type":"point"}},"y":{"field":"v","type":"quantitative","title":"mRNA level","scale":{"domain":[0,2.5]},"axis":{"values":[0,0.5,1,1.5,2,2.5],"format":".1f"}},"color":{"field":"g","type":"nominal","legend":null}},"layer":[{"mark":"point"},{"mark":"errorbar"},{"mark":{"type":"tick","size":46},"encoding":{"y":{"aggregate":"mean","field":"v","type":"quantitative","title":"mRNA level"}}}]},
{"title":"NTCP","transform":[{"filter":"datum.p=='L24'"}],"encoding":{"x":{"field":"g","type":"nominal","title":null,"scale":{"type":"point"}},"y":{"field":"v","type":"quantitative","title":"mRNA level","scale":{"domain":[0,4]},"axis":{"values":[0,1,2,3,4]}},"color":{"field":"g","type":"nominal","legend":null}},"layer":[{"mark":"point"},{"mark":"errorbar"},{"mark":{"type":"tick","size":46},"encoding":{"y":{"aggregate":"mean","field":"v","type":"quantitative","title":"mRNA level"}}}]},
{"title":"SHP","encoding":{"x":{"field":"g","type":"nominal","title":null,"scale":{"type":"point"}},"y":{"field":"v","type":"quantitative","title":"mRNA level","scale":{"domain":[0,4]},"axis":{"values":[0,1,2,3,4]}}},"layer":[{"transform":[{"filter":"datum.p=='L25'"}],"encoding":{"color":{"field":"g","type":"nominal","legend":null}},"layer":[{"mark":"point"},{"mark":"errorbar"},{"mark":{"type":"tick","size":46},"encoding":{"y":{"aggregate":"mean","field":"v","type":"quantitative","title":"mRNA level"}}}]},{"data":{"name":"sig"},"transform":[{"filter":"datum.p=='L25'"}],"encoding":{"x":{"datum":"Females"}},"layer":[{"mark":{"type":"point","shape":"M0,0.12V0H1V0.12","size":12277,"filled":false,"color":"black","strokeWidth":2.5,"opacity":1}},{"mark":{"type":"text","dx":27.7,"dy":11,"fontSize":32,"fontWeight":"bold","color":"black","baseline":"alphabetic","align":"center"},"encoding":{"text":{"field":"s"}}}]}]},
{"title":"FXR","encoding":{"x":{"field":"g","type":"nominal","title":null,"scale":{"type":"point"}},"y":{"field":"v","type":"quantitative","title":"mRNA level","scale":{"domain":[0,3]},"axis":{"values":[0,1,2,3]}}},"layer":[{"transform":[{"filter":"datum.p=='L26'"}],"encoding":{"color":{"field":"g","type":"nominal","legend":null}},"layer":[{"mark":"point"},{"mark":"errorbar"},{"mark":{"type":"tick","size":46},"encoding":{"y":{"aggregate":"mean","field":"v","type":"quantitative","title":"mRNA level"}}}]},{"data":{"name":"sig"},"transform":[{"filter":"datum.p=='L26'"}],"encoding":{"x":{"datum":"Females"}},"layer":[{"mark":{"type":"point","shape":"M0,0.12V0H1V0.12","size":12277,"filled":false,"color":"black","strokeWidth":2.5,"opacity":1}},{"mark":{"type":"text","dx":27.7,"dy":11,"fontSize":32,"fontWeight":"bold","color":"black","baseline":"alphabetic","align":"center"},"encoding":{"text":{"field":"s"}}}]}]},
{"title":"TGR5","transform":[{"filter":"datum.p=='L27'"}],"encoding":{"x":{"field":"g","type":"nominal","title":null,"scale":{"type":"point"}},"y":{"field":"v","type":"quantitative","title":"mRNA level","scale":{"domain":[0,5]},"axis":{"values":[0,1,2,3,4,5]}},"color":{"field":"g","type":"nominal","legend":null}},"layer":[{"mark":"point"},{"mark":"errorbar"},{"mark":{"type":"tick","size":46},"encoding":{"y":{"aggregate":"mean","field":"v","type":"quantitative","title":"mRNA level"}}}]},
{"title":"ASBT","encoding":{"x":{"field":"g","type":"nominal","title":null,"scale":{"type":"point"}},"y":{"field":"v","type":"quantitative","title":"mRNA level","scale":{"domain":[0,30]},"axis":{"values":[0,10,20,30]}}},"layer":[{"transform":[{"filter":"datum.p=='L28'"}],"encoding":{"color":{"field":"g","type":"nominal","legend":null}},"layer":[{"mark":"point"},{"mark":"errorbar"},{"mark":{"type":"tick","size":46},"encoding":{"y":{"aggregate":"mean","field":"v","type":"quantitative","title":"mRNA level"}}}]},{"data":{"name":"sig"},"transform":[{"filter":"datum.p=='L28'"}],"encoding":{"x":{"datum":"Females"}},"layer":[{"mark":{"type":"point","shape":"M0,0.12V0H1V0.12","size":12277,"filled":false,"color":"black","strokeWidth":2.5,"opacity":1}},{"mark":{"type":"text","dx":27.7,"dy":11,"fontSize":32,"fontWeight":"bold","color":"black","baseline":"alphabetic","align":"center"},"encoding":{"text":{"field":"s"}}}]}]}
]},
{"title":{"text":"Old","orient":"left","anchor":"middle","fontSize":44,"fontStyle":"normal","dx":40,"offset":30,"frame":"bounds","baseline":"bottom"},"bounds":"flush","spacing":80,"hconcat":[
{"title":"CYP7A1","transform":[{"filter":"datum.p=='L31'"}],"encoding":{"x":{"field":"g","type":"nominal","title":null,"scale":{"type":"point"}},"y":{"field":"v","type":"quantitative","title":"mRNA level","scale":{"domain":[0,10]},"axis":{"values":[0,2,4,6,8,10]}},"color":{"field":"g","type":"nominal","legend":null}},"layer":[{"mark":"point"},{"mark":"errorbar"},{"mark":{"type":"tick","size":46},"encoding":{"y":{"aggregate":"mean","field":"v","type":"quantitative","title":"mRNA level"}}}]},
{"title":"BSEP","transform":[{"filter":"datum.p=='L32'"}],"encoding":{"x":{"field":"g","type":"nominal","title":null,"scale":{"type":"point"}},"y":{"field":"v","type":"quantitative","title":"mRNA level","scale":{"domain":[0,2.5]},"axis":{"values":[0,0.5,1,1.5,2,2.5],"format":".1f"}},"color":{"field":"g","type":"nominal","legend":null}},"layer":[{"mark":"point"},{"mark":"errorbar"},{"mark":{"type":"tick","size":46},"encoding":{"y":{"aggregate":"mean","field":"v","type":"quantitative","title":"mRNA level"}}}]},
{"title":"SREBP2","transform":[{"filter":"datum.p=='L33'"}],"encoding":{"x":{"field":"g","type":"nominal","title":null,"scale":{"type":"point"}},"y":{"field":"v","type":"quantitative","title":"mRNA level","scale":{"domain":[0,6]},"axis":{"values":[0,2,4,6]}},"color":{"field":"g","type":"nominal","legend":null}},"layer":[{"mark":"point"},{"mark":"errorbar"},{"mark":{"type":"tick","size":46},"encoding":{"y":{"aggregate":"mean","field":"v","type":"quantitative","title":"mRNA level"}}}]},
{"title":"NTCP","transform":[{"filter":"datum.p=='L34'"}],"encoding":{"x":{"field":"g","type":"nominal","title":null,"scale":{"type":"point"}},"y":{"field":"v","type":"quantitative","title":"mRNA level","scale":{"domain":[0,10]},"axis":{"values":[0,2,4,6,8,10]}},"color":{"field":"g","type":"nominal","legend":null}},"layer":[{"mark":"point"},{"mark":"errorbar"},{"mark":{"type":"tick","size":46},"encoding":{"y":{"aggregate":"mean","field":"v","type":"quantitative","title":"mRNA level"}}}]},
{"title":"SHP","transform":[{"filter":"datum.p=='L35'"}],"encoding":{"x":{"field":"g","type":"nominal","title":null,"scale":{"type":"point"}},"y":{"field":"v","type":"quantitative","title":"mRNA level","scale":{"domain":[0,5]},"axis":{"values":[0,1,2,3,4,5]}},"color":{"field":"g","type":"nominal","legend":null}},"layer":[{"mark":"point"},{"mark":"errorbar"},{"mark":{"type":"tick","size":46},"encoding":{"y":{"aggregate":"mean","field":"v","type":"quantitative","title":"mRNA level"}}}]},
{"title":"FXR","transform":[{"filter":"datum.p=='L36'"}],"encoding":{"x":{"field":"g","type":"nominal","title":null,"scale":{"type":"point"}},"y":{"field":"v","type":"quantitative","title":"mRNA level","scale":{"domain":[0,2.5]},"axis":{"values":[0,0.5,1,1.5,2,2.5],"format":".1f"}},"color":{"field":"g","type":"nominal","legend":null}},"layer":[{"mark":"point"},{"mark":"errorbar"},{"mark":{"type":"tick","size":46},"encoding":{"y":{"aggregate":"mean","field":"v","type":"quantitative","title":"mRNA level"}}}]},
{"title":"TGR5","transform":[{"filter":"datum.p=='L37'"}],"encoding":{"x":{"field":"g","type":"nominal","title":null,"scale":{"type":"point"}},"y":{"field":"v","type":"quantitative","title":"mRNA level","scale":{"domain":[0,15]},"axis":{"values":[0,5,10,15]}},"color":{"field":"g","type":"nominal","legend":null}},"layer":[{"mark":"point"},{"mark":"errorbar"},{"mark":{"type":"tick","size":46},"encoding":{"y":{"aggregate":"mean","field":"v","type":"quantitative","title":"mRNA level"}}}]},
{"title":"ASBT","encoding":{"x":{"field":"g","type":"nominal","title":null,"scale":{"type":"point"}},"y":{"field":"v","type":"quantitative","title":"mRNA level","scale":{"domain":[0,80]},"axis":{"values":[0,20,40,60,80]}}},"layer":[{"transform":[{"filter":"datum.p=='L38'"}],"encoding":{"color":{"field":"g","type":"nominal","legend":null}},"layer":[{"mark":"point"},{"mark":"errorbar"},{"mark":{"type":"tick","size":46},"encoding":{"y":{"aggregate":"mean","field":"v","type":"quantitative","title":"mRNA level"}}}]},{"data":{"name":"sig"},"transform":[{"filter":"datum.p=='L38'"}],"encoding":{"x":{"datum":"Females"}},"layer":[{"mark":{"type":"point","shape":"M0,0.12V0H1V0.12","size":12277,"filled":false,"color":"black","strokeWidth":2.5,"opacity":1}},{"mark":{"type":"text","dx":27.7,"dy":11,"fontSize":32,"fontWeight":"bold","color":"black","baseline":"alphabetic","align":"center"},"encoding":{"text":{"field":"s"}}}]}]}
]}
]},
{"title":{"text":"Ileum tissue","anchor":"start","fontSize":42,"fontStyle":"normal","dx":-30,"offset":35,"frame":"bounds","baseline":"alphabetic"},"spacing":85,"vconcat":[
{"title":{"text":"Young","orient":"left","anchor":"middle","fontSize":44,"fontStyle":"normal","dx":35,"offset":30,"frame":"bounds","baseline":"bottom"},"bounds":"flush","spacing":80,"hconcat":[
{"title":"CYP7A1","transform":[{"filter":"datum.p=='I11'"}],"encoding":{"x":{"field":"g","type":"nominal","title":null,"scale":{"type":"point"}},"y":{"field":"v","type":"quantitative","title":"mRNA level","scale":{"domain":[0,6]},"axis":{"values":[0,2,4,6]}},"color":{"field":"g","type":"nominal","legend":null}},"layer":[{"mark":"point"},{"mark":"errorbar"},{"mark":{"type":"tick","size":46},"encoding":{"y":{"aggregate":"mean","field":"v","type":"quantitative","title":"mRNA level"}}}]},
{"title":"BSEP","transform":[{"filter":"datum.p=='I12'"}],"encoding":{"x":{"field":"g","type":"nominal","title":null,"scale":{"type":"point"}},"y":{"field":"v","type":"quantitative","title":"mRNA level","scale":{"domain":[0,8]},"axis":{"values":[0,2,4,6,8]}},"color":{"field":"g","type":"nominal","legend":null}},"layer":[{"mark":"point"},{"mark":"errorbar"},{"mark":{"type":"tick","size":46},"encoding":{"y":{"aggregate":"mean","field":"v","type":"quantitative","title":"mRNA level"}}}]},
{"title":"SREBP2","transform":[{"filter":"datum.p=='I13'"}],"encoding":{"x":{"field":"g","type":"nominal","title":null,"scale":{"type":"point"}},"y":{"field":"v","type":"quantitative","title":"mRNA level","scale":{"domain":[0,10]},"axis":{"values":[0,2,4,6,8,10]}},"color":{"field":"g","type":"nominal","legend":null}},"layer":[{"mark":"point"},{"mark":"errorbar"},{"mark":{"type":"tick","size":46},"encoding":{"y":{"aggregate":"mean","field":"v","type":"quantitative","title":"mRNA level"}}}]},
{"title":"NTCP","encoding":{"x":{"field":"g","type":"nominal","title":null,"scale":{"type":"point"}},"y":{"field":"v","type":"quantitative","title":"mRNA level","scale":{"domain":[0,20]},"axis":{"values":[0,5,10,15,20]}}},"layer":[{"transform":[{"filter":"datum.p=='I14'"}],"encoding":{"color":{"field":"g","type":"nominal","legend":null}},"layer":[{"mark":"point"},{"mark":"errorbar"},{"mark":{"type":"tick","size":46},"encoding":{"y":{"aggregate":"mean","field":"v","type":"quantitative","title":"mRNA level"}}}]},{"data":{"name":"sig"},"transform":[{"filter":"datum.p=='I14'"}],"encoding":{"x":{"datum":"Females"}},"layer":[{"mark":{"type":"point","shape":"M0,0.12V0H1V0.12","size":12277,"filled":false,"color":"black","strokeWidth":2.5,"opacity":1}},{"mark":{"type":"text","dx":27.7,"dy":11,"fontSize":32,"fontWeight":"bold","color":"black","baseline":"alphabetic","align":"center"},"encoding":{"text":{"field":"s"}}}]}]},
{"title":"SHP","encoding":{"x":{"field":"g","type":"nominal","title":null,"scale":{"type":"point"}},"y":{"field":"v","type":"quantitative","title":"mRNA level","scale":{"domain":[0,50]},"axis":{"values":[0,10,20,30,40,50]}}},"layer":[{"transform":[{"filter":"datum.p=='I15'"}],"encoding":{"color":{"field":"g","type":"nominal","legend":null}},"layer":[{"mark":"point"},{"mark":"errorbar"},{"mark":{"type":"tick","size":46},"encoding":{"y":{"aggregate":"mean","field":"v","type":"quantitative","title":"mRNA level"}}}]},{"data":{"name":"sig"},"transform":[{"filter":"datum.p=='I15'"}],"encoding":{"x":{"datum":"Females"}},"layer":[{"mark":{"type":"point","shape":"M0,0.12V0H1V0.12","size":12277,"filled":false,"color":"black","strokeWidth":2.5,"opacity":1}},{"mark":{"type":"text","dx":27.7,"dy":11,"fontSize":32,"fontWeight":"bold","color":"black","baseline":"alphabetic","align":"center"},"encoding":{"text":{"field":"s"}}}]}]},
{"title":"FXR","encoding":{"x":{"field":"g","type":"nominal","title":null,"scale":{"type":"point"}},"y":{"field":"v","type":"quantitative","title":"mRNA level","scale":{"domain":[0,150]},"axis":{"values":[0,50,100,150]}}},"layer":[{"transform":[{"filter":"datum.p=='I16'"}],"encoding":{"color":{"field":"g","type":"nominal","legend":null}},"layer":[{"mark":"point"},{"mark":"errorbar"},{"mark":{"type":"tick","size":46},"encoding":{"y":{"aggregate":"mean","field":"v","type":"quantitative","title":"mRNA level"}}}]},{"data":{"name":"sig"},"transform":[{"filter":"datum.p=='I16'"}],"encoding":{"x":{"datum":"Females"}},"layer":[{"mark":{"type":"point","shape":"M0,0.12V0H1V0.12","size":12277,"filled":false,"color":"black","strokeWidth":2.5,"opacity":1}},{"mark":{"type":"text","dx":27.7,"dy":11,"fontSize":32,"fontWeight":"bold","color":"black","baseline":"alphabetic","align":"center"},"encoding":{"text":{"field":"s"}}}]}]},
{"title":"TGR5","transform":[{"filter":"datum.p=='I17'"}],"encoding":{"x":{"field":"g","type":"nominal","title":null,"scale":{"type":"point"}},"y":{"field":"v","type":"quantitative","title":"mRNA level","scale":{"domain":[0,15]},"axis":{"values":[0,5,10,15]}},"color":{"field":"g","type":"nominal","legend":null}},"layer":[{"mark":"point"},{"mark":"errorbar"},{"mark":{"type":"tick","size":46},"encoding":{"y":{"aggregate":"mean","field":"v","type":"quantitative","title":"mRNA level"}}}]},
{"title":"ASBT","transform":[{"filter":"datum.p=='I18'"}],"encoding":{"x":{"field":"g","type":"nominal","title":null,"scale":{"type":"point"}},"y":{"field":"v","type":"quantitative","title":"mRNA level","scale":{"domain":[0,15]},"axis":{"values":[0,5,10,15]}},"color":{"field":"g","type":"nominal","legend":null}},"layer":[{"mark":"point"},{"mark":"errorbar"},{"mark":{"type":"tick","size":46},"encoding":{"y":{"aggregate":"mean","field":"v","type":"quantitative","title":"mRNA level"}}}]}
]},
{"spacing":63,"vconcat":[
{"title":{"text":"Middle-age","orient":"left","anchor":"middle","fontSize":44,"fontStyle":"normal","dx":18,"offset":30,"frame":"bounds","baseline":"bottom"},"bounds":"flush","spacing":80,"hconcat":[
{"title":"CYP7A1","transform":[{"filter":"datum.p=='I21'"}],"encoding":{"x":{"field":"g","type":"nominal","title":null,"scale":{"type":"point"}},"y":{"field":"v","type":"quantitative","title":"mRNA level","scale":{"domain":[0,4]},"axis":{"values":[0,1,2,3,4]}},"color":{"field":"g","type":"nominal","legend":null}},"layer":[{"mark":"point"},{"mark":"errorbar"},{"mark":{"type":"tick","size":46},"encoding":{"y":{"aggregate":"mean","field":"v","type":"quantitative","title":"mRNA level"}}}]},
{"title":"BSEP","transform":[{"filter":"datum.p=='I22'"}],"encoding":{"x":{"field":"g","type":"nominal","title":null,"scale":{"type":"point"}},"y":{"field":"v","type":"quantitative","title":"mRNA level","scale":{"domain":[0,30]},"axis":{"values":[0,10,20,30]}},"color":{"field":"g","type":"nominal","legend":null}},"layer":[{"mark":"point"},{"mark":"errorbar"},{"mark":{"type":"tick","size":46},"encoding":{"y":{"aggregate":"mean","field":"v","type":"quantitative","title":"mRNA level"}}}]},
{"title":"SREBP2","transform":[{"filter":"datum.p=='I23'"}],"encoding":{"x":{"field":"g","type":"nominal","title":null,"scale":{"type":"point"}},"y":{"field":"v","type":"quantitative","title":"mRNA level","scale":{"domain":[0,5]},"axis":{"values":[0,1,2,3,4,5]}},"color":{"field":"g","type":"nominal","legend":null}},"layer":[{"mark":"point"},{"mark":"errorbar"},{"mark":{"type":"tick","size":46},"encoding":{"y":{"aggregate":"mean","field":"v","type":"quantitative","title":"mRNA level"}}}]},
{"title":"NTCP","transform":[{"filter":"datum.p=='I24'"}],"encoding":{"x":{"field":"g","type":"nominal","title":null,"scale":{"type":"point"}},"y":{"field":"v","type":"quantitative","title":"mRNA level","scale":{"domain":[0,4]},"axis":{"values":[0,1,2,3,4]}},"color":{"field":"g","type":"nominal","legend":null}},"layer":[{"mark":"point"},{"mark":"errorbar"},{"mark":{"type":"tick","size":46},"encoding":{"y":{"aggregate":"mean","field":"v","type":"quantitative","title":"mRNA level"}}}]},
{"title":"SHP","transform":[{"filter":"datum.p=='I25'"}],"encoding":{"x":{"field":"g","type":"nominal","title":null,"scale":{"type":"point"}},"y":{"field":"v","type":"quantitative","title":"mRNA level","scale":{"domain":[0,6]},"axis":{"values":[0,2,4,6]}},"color":{"field":"g","type":"nominal","legend":null}},"layer":[{"mark":"point"},{"mark":"errorbar"},{"mark":{"type":"tick","size":46},"encoding":{"y":{"aggregate":"mean","field":"v","type":"quantitative","title":"mRNA level"}}}]},
{"title":"FXR","transform":[{"filter":"datum.p=='I26'"}],"encoding":{"x":{"field":"g","type":"nominal","title":null,"scale":{"type":"point"}},"y":{"field":"v","type":"quantitative","title":"mRNA level","scale":{"domain":[0,8]},"axis":{"values":[0,2,4,6,8]}},"color":{"field":"g","type":"nominal","legend":null}},"layer":[{"mark":"point"},{"mark":"errorbar"},{"mark":{"type":"tick","size":46},"encoding":{"y":{"aggregate":"mean","field":"v","type":"quantitative","title":"mRNA level"}}}]},
{"title":"TGR5","encoding":{"x":{"field":"g","type":"nominal","title":null,"scale":{"type":"point"}},"y":{"field":"v","type":"quantitative","title":"mRNA level","scale":{"domain":[0,2.5]},"axis":{"values":[0,0.5,1,1.5,2,2.5],"format":".1f"}}},"layer":[{"transform":[{"filter":"datum.p=='I27'"}],"encoding":{"color":{"field":"g","type":"nominal","legend":null}},"layer":[{"mark":"point"},{"mark":"errorbar"},{"mark":{"type":"tick","size":46},"encoding":{"y":{"aggregate":"mean","field":"v","type":"quantitative","title":"mRNA level"}}}]},{"data":{"name":"sig"},"transform":[{"filter":"datum.p=='I27'"}],"encoding":{"x":{"datum":"Females"}},"layer":[{"mark":{"type":"point","shape":"M0,0.12V0H1V0.12","size":12277,"filled":false,"color":"black","strokeWidth":2.5,"opacity":1}},{"mark":{"type":"text","dx":27.7,"dy":11,"fontSize":32,"fontWeight":"bold","color":"black","baseline":"alphabetic","align":"center"},"encoding":{"text":{"field":"s"}}}]}]},
{"title":"ASBT","transform":[{"filter":"datum.p=='I28'"}],"encoding":{"x":{"field":"g","type":"nominal","title":null,"scale":{"type":"point"}},"y":{"field":"v","type":"quantitative","title":"mRNA level","scale":{"domain":[0,2]},"axis":{"values":[0,0.5,1,1.5,2],"format":".1f"}},"color":{"field":"g","type":"nominal","legend":null}},"layer":[{"mark":"point"},{"mark":"errorbar"},{"mark":{"type":"tick","size":46},"encoding":{"y":{"aggregate":"mean","field":"v","type":"quantitative","title":"mRNA level"}}}]}
]},
{"title":{"text":"Old","orient":"left","anchor":"middle","fontSize":44,"fontStyle":"normal","dx":18,"offset":30,"frame":"bounds","baseline":"bottom"},"bounds":"flush","spacing":80,"hconcat":[
{"title":"CYP7A1","transform":[{"filter":"datum.p=='I31'"}],"encoding":{"x":{"field":"g","type":"nominal","title":null,"scale":{"type":"point"}},"y":{"field":"v","type":"quantitative","title":"mRNA level","scale":{"domain":[0,2.5]},"axis":{"values":[0,0.5,1,1.5,2,2.5],"format":".1f"}},"color":{"field":"g","type":"nominal","legend":null}},"layer":[{"mark":"point"},{"mark":"errorbar"},{"mark":{"type":"tick","size":46},"encoding":{"y":{"aggregate":"mean","field":"v","type":"quantitative","title":"mRNA level"}}}]},
{"title":"BSEP","transform":[{"filter":"datum.p=='I32'"}],"encoding":{"x":{"field":"g","type":"nominal","title":null,"scale":{"type":"point"}},"y":{"field":"v","type":"quantitative","title":"mRNA level","scale":{"domain":[0,4]},"axis":{"values":[0,1,2,3,4]}},"color":{"field":"g","type":"nominal","legend":null}},"layer":[{"mark":"point"},{"mark":"errorbar"},{"mark":{"type":"tick","size":46},"encoding":{"y":{"aggregate":"mean","field":"v","type":"quantitative","title":"mRNA level"}}}]},
{"title":"SREBP2","transform":[{"filter":"datum.p=='I33'"}],"encoding":{"x":{"field":"g","type":"nominal","title":null,"scale":{"type":"point"}},"y":{"field":"v","type":"quantitative","title":"mRNA level","scale":{"domain":[0,1.5]},"axis":{"values":[0,0.5,1,1.5],"format":".1f"}},"color":{"field":"g","type":"nominal","legend":null}},"layer":[{"mark":"point"},{"mark":"errorbar"},{"mark":{"type":"tick","size":46},"encoding":{"y":{"aggregate":"mean","field":"v","type":"quantitative","title":"mRNA level"}}}]},
{"title":"NTCP","transform":[{"filter":"datum.p=='I34'"}],"encoding":{"x":{"field":"g","type":"nominal","title":null,"scale":{"type":"point"}},"y":{"field":"v","type":"quantitative","title":"mRNA level","scale":{"domain":[0,1.5]},"axis":{"values":[0,0.5,1,1.5],"format":".1f"}},"color":{"field":"g","type":"nominal","legend":null}},"layer":[{"mark":"point"},{"mark":"errorbar"},{"mark":{"type":"tick","size":46},"encoding":{"y":{"aggregate":"mean","field":"v","type":"quantitative","title":"mRNA level"}}}]},
{"title":"SHP","transform":[{"filter":"datum.p=='I35'"}],"encoding":{"x":{"field":"g","type":"nominal","title":null,"scale":{"type":"point"}},"y":{"field":"v","type":"quantitative","title":"mRNA level","scale":{"domain":[0,1.5]},"axis":{"values":[0,0.5,1,1.5],"format":".1f"}},"color":{"field":"g","type":"nominal","legend":null}},"layer":[{"mark":"point"},{"mark":"errorbar"},{"mark":{"type":"tick","size":46},"encoding":{"y":{"aggregate":"mean","field":"v","type":"quantitative","title":"mRNA level"}}}]},
{"title":"FXR","transform":[{"filter":"datum.p=='I36'"}],"encoding":{"x":{"field":"g","type":"nominal","title":null,"scale":{"type":"point"}},"y":{"field":"v","type":"quantitative","title":"mRNA level","scale":{"domain":[0,5]},"axis":{"values":[0,1,2,3,4,5]}},"color":{"field":"g","type":"nominal","legend":null}},"layer":[{"mark":"point"},{"mark":"errorbar"},{"mark":{"type":"tick","size":46},"encoding":{"y":{"aggregate":"mean","field":"v","type":"quantitative","title":"mRNA level"}}}]},
{"title":"TGR5","transform":[{"filter":"datum.p=='I37'"}],"encoding":{"x":{"field":"g","type":"nominal","title":null,"scale":{"type":"point"}},"y":{"field":"v","type":"quantitative","title":"mRNA level","scale":{"domain":[0,1.5]},"axis":{"values":[0,0.5,1,1.5],"format":".1f"}},"color":{"field":"g","type":"nominal","legend":null}},"layer":[{"mark":"point"},{"mark":"errorbar"},{"mark":{"type":"tick","size":46},"encoding":{"y":{"aggregate":"mean","field":"v","type":"quantitative","title":"mRNA level"}}}]},
{"title":"ASBT","transform":[{"filter":"datum.p=='I38'"}],"encoding":{"x":{"field":"g","type":"nominal","title":null,"scale":{"type":"point"}},"y":{"field":"v","type":"quantitative","title":"mRNA level","scale":{"domain":[0,1.5]},"axis":{"values":[0,0.5,1,1.5],"format":".1f"}},"color":{"field":"g","type":"nominal","legend":null}},"layer":[{"mark":"point"},{"mark":"errorbar"},{"mark":{"type":"tick","size":46},"encoding":{"y":{"aggregate":"mean","field":"v","type":"quantitative","title":"mRNA level"}}}]}
]}
]}
]}
]
}
